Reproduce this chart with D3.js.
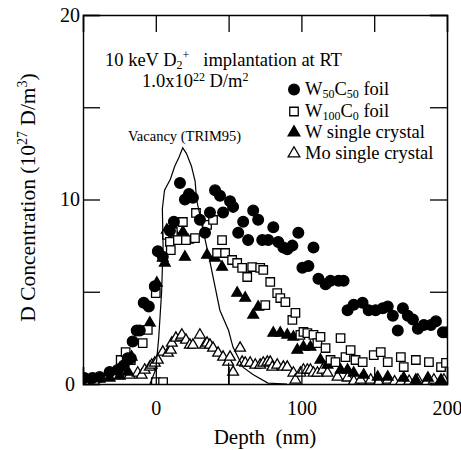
<!DOCTYPE html>
<html>
<head>
<meta charset="utf-8">
<script src="https://cdn.jsdelivr.net/npm/d3@7"></script>
<style>
  body { margin: 0; background: #fff; }
  svg { display: block; font-family: "Liberation Serif", "Times New Roman", serif; }
</style>
</head>
<body>
<div id="chart"></div>
<script>
// depth (nm), D concentration (1e27 D/m3)
var w50c50 = [
  [-49, 0.33], [-43.4, 0.33], [-38.6, 0.38], [-31.7, 0.65], [-26.2, 0.76], [-22, 1.0], [-19.3, 1.4], [-17.2, 1.4],
  [-15.9, 2.3], [-13.1, 2.9], [-11, 2.9], [-8.3, 4.4], [-4.8, 4.2], [-0.7, 5.3], [1.4, 7.2], [4.8, 6.9],
  [9.7, 8.3], [12.4, 8.8], [16.6, 10.9], [20, 10.0], [22.8, 10.3], [25.5, 10.1], [30.3, 8.9], [33.8, 8.2],
  [37.2, 9.3], [40.7, 10.5], [44.1, 10.2], [46.2, 9.3], [51, 9.9], [53.1, 9.6], [56.6, 8.2], [60, 8.8],
  [63.4, 7.8], [66.9, 9.4], [70.3, 8.9], [73.1, 7.8], [77.2, 7.8], [80.7, 8.5], [84.1, 7.7], [87.6, 7.4],
  [90.3, 7.3], [93.8, 7.5], [97.9, 8.2], [100.7, 6.3], [104.8, 6.4], [108.3, 7.4], [111.7, 5.7], [116.6, 5.4],
  [120, 5.6], [125.5, 5.6], [129, 5.6], [131.7, 4.0], [135.9, 4.3], [142, 4.4], [146.2, 4.0], [151, 4.0],
  [155.9, 4.1], [159.3, 4.2], [162.8, 3.7], [166.2, 2.9], [169.7, 4.1], [173.1, 3.7], [176.6, 3.5], [180, 3.0],
  [184.1, 3.2], [189, 3.2], [192.4, 3.4], [197.2, 2.8], [200, 2.8]
];
var w100c0 = [
  [-49, 0.16], [-42, 0.16], [-24.1, 1.3], [-20.7, 1.73], [-17.2, 1.3], [-9, 2.22], [-5.5, 2.93], [0, 4.93],
  [0, 0.1], [5, 0.1], [7.6, 8.08], [9.7, 7.7], [10.3, 7.26], [11.7, 8.24], [15.2, 7.8], [18.6, 8.78],
  [20.7, 7.8], [26.9, 7.91], [27.6, 9.27], [35.2, 8.62], [39.3, 8.89], [42.1, 7.1], [45.5, 7.8], [47.6, 7.1],
  [52.4, 6.72], [55.9, 6.56], [59.3, 6.29], [62.8, 5.8], [66.2, 6.34], [71.7, 6.29], [73.8, 6.18], [75.2, 4.28],
  [78.6, 5.53], [83.4, 4.93], [85.5, 4.66], [89, 4.44], [93.8, 3.47], [95.9, 3.85], [99.3, 2.66], [101.4, 2.82],
  [104.1, 2.76], [108.3, 2.66], [111, 2.22], [113.1, 2.55], [116.6, 1.95], [120, 1.3], [123.4, 1.19], [126.9, 2.49],
  [130.3, 1.46], [133.8, 1.84], [137.2, 1.3], [142.1, 1.19], [149.7, 1.57], [154.5, 1.73], [159.3, 1.19], [168.3, 1.46],
  [170.3, 0.92], [178.6, 1.3], [187.6, 1.19], [195.9, 0.92], [199.3, 1.14]
];
var wCrystal = [
  [-45.5, 0.22], [-38.6, 0.27], [-31.7, 0.33], [-24.8, 0.43], [-19.3, 0.65], [-16.6, 1.46], [-4.1, 3.31], [0.7, 5.47],
  [4.8, 6.83], [6.2, 6.56], [7.6, 8.35], [11.7, 8.35], [18.6, 8.24], [20, 6.88], [22.1, 7.8], [35.2, 6.99],
  [40.7, 6.83], [45.5, 6.34], [55.9, 4.93], [61.4, 4.66], [66.9, 3.74], [70.3, 4.17], [80.7, 2.76], [85.5, 2.76],
  [90.3, 2.66], [94.5, 2.55], [97.2, 1.84], [101.4, 2.0], [106.2, 2.0], [113.1, 1.3], [117.9, 1.03], [126.9, 0.76],
  [131.7, 0.76], [135.9, 0.6], [142.8, 0.49], [152.4, 0.38], [159.3, 0.38], [170.3, 0.33], [178.6, 0.22], [186.9, 0.33],
  [195.9, 0.22]
];
var moCrystal = [
  [-49.7, 0.16], [-17.9, 0.49], [-12.4, 0.6], [-9.7, 0.49], [-7.6, 0.76], [-4.1, 0.92], [-2.8, 1.03], [-0.7, 1.14],
  [1.4, 1.3], [4.8, 1.73], [8.3, 1.68], [10.3, 1.84], [11, 2.22], [13.8, 2.49], [17.2, 2.55], [17.9, 2.66],
  [20.7, 2.38], [23.4, 2.11], [25.5, 2.11], [30.3, 2.66], [33.8, 2.11], [35.2, 2.22], [37.2, 2.11], [39.3, 1.95],
  [42.8, 1.68], [46.2, 1.46], [49.7, 1.19], [51, 1.46], [53.1, 0.65], [57.9, 1.95], [59.3, 1.19], [61.4, 1.14],
  [64.8, 1.14], [68.3, 1.03], [71.7, 1.03], [73.8, 1.14], [76.6, 1.19], [78.6, 1.19], [80, 0.92], [83.4, 1.03],
  [87.6, 0.92], [90.3, 0.92], [94.5, 0.6], [95.9, 0.22], [99.3, 0.6], [101.4, 0.76], [104.1, 0.76], [106.2, 0.76],
  [108.3, 0.6], [111, 0.6], [114.5, 0.76], [117.9, 0.6], [124.8, 0.38], [131.7, 0.33], [136, 0.15], [140.7, 0.22],
  [147.6, 0.22], [153, 0.12], [159.3, 0.22], [164, 0.12], [168.3, 0.11], [174, 0.15], [180, 0.22], [186, 0.12],
  [191, 0.22], [197.9, 0.22]
];
// vacancy profile (TRIM95)
var vacancy = [
  [-4, 0], [0, 0.8], [2, 2.5], [4, 5], [5, 7.5], [4.5, 9.5], [6, 10.5], [10, 11.1], [13, 11.8], [16, 12.3],
  [18.5, 12.8], [21, 12.5], [24.5, 11.8], [27, 11], [28, 10], [32, 8.5], [37, 6.7], [44, 4], [50, 2.9],
  [53, 2], [60, 0.9], [67, 0.5], [77, 0.05], [90, 0]
];
var edgeLine = [[50, 0], [50, 1.15]];

var xTicks = [-50, 0, 50, 100, 150, 200];
var xLabels = [0, 100, 200];
var yTicks = [0, 5, 10, 15, 20];
var yLabels = [0, 10, 20];

var width = 461, height = 450;
var margin = { top: 15, right: 14, bottom: 66, left: 83 };

var svg = d3.select("#chart").append("svg")
    .attr("width", width)
    .attr("height", height);

var x = d3.scaleLinear().domain([-50, 200]).range([margin.left, width - margin.right]);
var y = d3.scaleLinear().domain([0, 20]).range([height - margin.bottom, margin.top]);

svg.append("clipPath").attr("id", "plot-clip")
  .append("rect")
    .attr("x", x(-50)).attr("y", y(20))
    .attr("width", x(200) - x(-50)).attr("height", y(0) - y(20));

var plot = svg.append("g").attr("clip-path", "url(#plot-clip)");

function drawSeries(data, type, size, fill) {
    plot.append("g").selectAll("path")
        .data(data)
        .join("path")
        .attr("transform", d => `translate(${x(d[0])},${y(d[1])})`)
        .attr("d", d3.symbol().type(type).size(size))
        .attr("fill", fill)
        .attr("stroke", "#000")
        .attr("stroke-width", 1.3);
}

drawSeries(moCrystal, d3.symbolTriangle, 50, "#fff");
drawSeries(wCrystal, d3.symbolTriangle, 50, "#000");
drawSeries(w100c0, d3.symbolSquare, 72, "#fff");
drawSeries(w50c50, d3.symbolCircle, 90, "#000");

var line = d3.line().x(d => x(d[0])).y(d => y(d[1]));
plot.append("path").datum(vacancy)
    .attr("d", line).attr("fill", "none").attr("stroke", "#000").attr("stroke-width", 1.2);
plot.append("path").datum(edgeLine)
    .attr("d", line).attr("fill", "none").attr("stroke", "#000").attr("stroke-width", 1.2);

// axes, ticks inward on all four sides
var tick = 17;
var xAxisG = svg.append("g").attr("transform", `translate(0,${y(0)})`)
    .call(d3.axisBottom(x).tickValues(xTicks).tickSize(-tick)
        .tickFormat(v => xLabels.includes(v) ? v : ""));
xAxisG.selectAll(".tick text").attr("y", 17);
svg.append("g").attr("transform", `translate(0,${y(20)})`)
    .call(d3.axisTop(x).tickValues(xTicks).tickSize(-tick).tickFormat(""));
var yAxisG = svg.append("g").attr("transform", `translate(${x(-50)},0)`)
    .call(d3.axisLeft(y).tickValues(yTicks).tickSize(-tick)
        .tickFormat(v => yLabels.includes(v) ? v : ""));
yAxisG.selectAll(".tick text").attr("x", d => d === 0 ? -8 : -3);
svg.append("g").attr("transform", `translate(${x(200)},0)`)
    .call(d3.axisRight(y).tickValues(yTicks).tickSize(-tick).tickFormat(""));

svg.selectAll(".domain").attr("stroke", "#000").attr("stroke-width", 1.4);
svg.selectAll(".tick line").attr("stroke", "#000").attr("stroke-width", 1.3);
svg.selectAll(".tick text")
    .attr("font-family", "Liberation Serif, serif")
    .attr("font-size", 20).attr("fill", "#000");

// axis titles
svg.append("text")
    .attr("x", (x(-50) + x(200)) / 2).attr("y", 444)
    .attr("text-anchor", "middle").attr("font-size", 21)
    .attr("xml:space", "preserve")
    .text("Depth  (nm)");

var yt = svg.append("text")
    .attr("transform", `translate(35,${(y(0) + y(20)) / 2 - 2}) rotate(-90)`)
    .attr("text-anchor", "middle").attr("font-size", 21.5);
yt.append("tspan").text("D Concentration (10");
yt.append("tspan").attr("font-size", 14).attr("dy", -8).text("27");
yt.append("tspan").attr("dy", 8).text(" D/m");
yt.append("tspan").attr("font-size", 14).attr("dy", -8).text("3");
yt.append("tspan").attr("dy", 8).text(")");

// annotations
var t1 = svg.append("text").attr("x", 105).attr("y", 66).attr("font-size", 18.5).attr("xml:space", "preserve");
t1.append("tspan").text("10 keV D");
t1.append("tspan").attr("font-size", 12).attr("dy", 3).text("2");
t1.append("tspan").attr("font-size", 12).attr("dy", -10).text("+");
t1.append("tspan").attr("dy", 7).text("   implantation at RT");

var t2 = svg.append("text").attr("x", 142).attr("y", 87).attr("font-size", 18.5);
t2.append("tspan").text("1.0x10");
t2.append("tspan").attr("font-size", 12).attr("dy", -6).text("22");
t2.append("tspan").attr("dy", 6).text(" D/m");
t2.append("tspan").attr("font-size", 12).attr("dy", -6).text("2");

svg.append("text").attr("x", 128).attr("y", 141).attr("font-size", 14.5)
    .text("Vacancy (TRIM95)");

// legend
var legendRows = [
    { type: d3.symbolCircle, size: 90, fill: "#000", parts: [["W", 0], ["50", 1], ["C", 0], ["50", 1], [" foil", 0]] },
    { type: d3.symbolSquare, size: 72, fill: "#fff", parts: [["W", 0], ["100", 1], ["C", 0], ["0", 1], [" foil", 0]] },
    { type: d3.symbolTriangle, size: 60, fill: "#000", parts: [["W single crystal", 0]] },
    { type: d3.symbolTriangle, size: 60, fill: "#fff", parts: [["Mo single crystal", 0]] }
];
var legendY = [95, 117, 138, 159];

legendRows.forEach(function(row, i) {
    var ly = legendY[i];
    svg.append("path")
        .attr("transform", `translate(294,${ly - 5.5})`)
        .attr("d", d3.symbol().type(row.type).size(row.size))
        .attr("fill", row.fill).attr("stroke", "#000").attr("stroke-width", 1.3);
    var txt = svg.append("text").attr("x", 305).attr("y", ly).attr("font-size", 18.5);
    var sub = 0;
    row.parts.forEach(function(p) {
        var dy = (p[1] ? 3 : 0) - sub;
        sub = p[1] ? 3 : 0;
        txt.append("tspan").attr("dy", dy).attr("font-size", p[1] ? 12 : 18.5).text(p[0]);
    });
});
</script>
</body>
</html>
